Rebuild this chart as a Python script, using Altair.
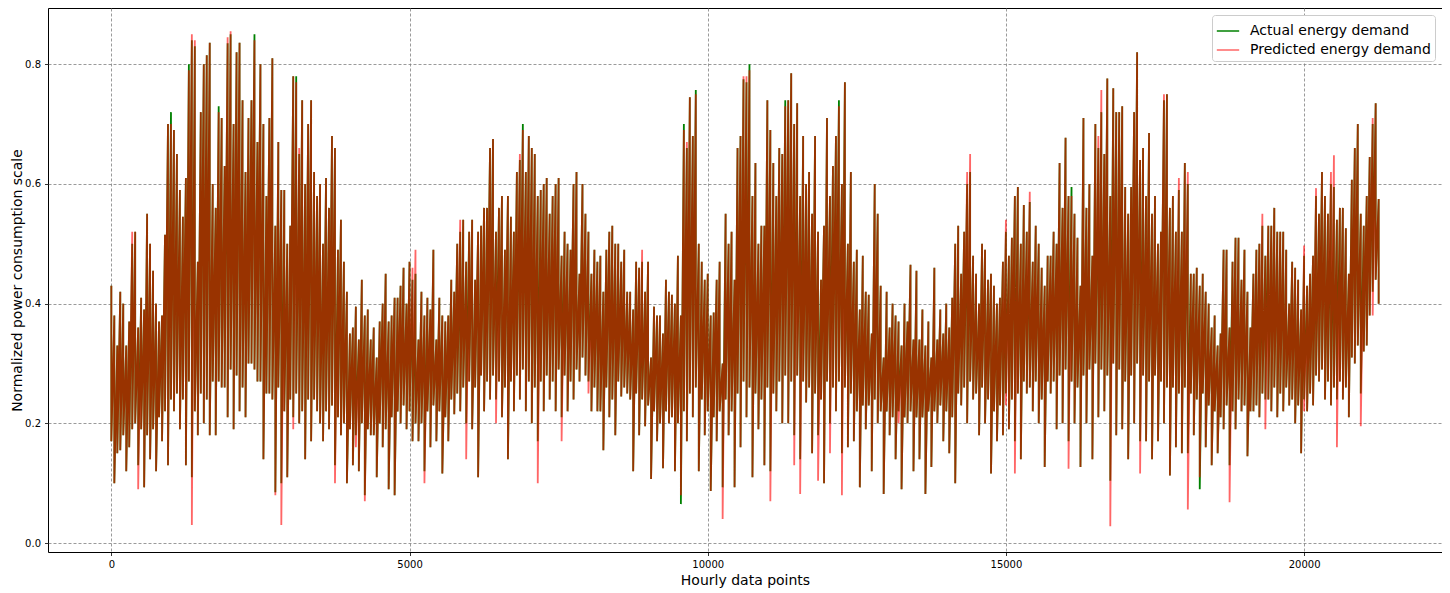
import altair as alt
import pandas as pd

# hourly index of the sampled points (every 50th hour)
hours = list(range(0, 21300, 50))

# outer envelope value at each sampled hour (peaks at even positions, troughs at odd ones)
actual = [
    0.43, 0.10, 0.33, 0.155, 0.40, 0.12, 0.37, 0.19, 0.52, 0.13,
    0.41, 0.093, 0.55, 0.14, 0.455, 0.12, 0.37, 0.17, 0.515, 0.13,
    0.72, 0.22, 0.65, 0.19, 0.545, 0.13, 0.80, 0.11, 0.83, 0.18,
    0.72, 0.20, 0.815, 0.18, 0.60, 0.18, 0.73, 0.26, 0.63, 0.21,
    0.85, 0.19, 0.82, 0.22, 0.74, 0.21, 0.71, 0.30, 0.85, 0.27,
    0.80, 0.14, 0.58, 0.25, 0.81, 0.085, 0.67, 0.10, 0.59, 0.11,
    0.53, 0.21, 0.78, 0.20, 0.74, 0.14, 0.70, 0.17, 0.62, 0.22,
    0.60, 0.17, 0.61, 0.19, 0.68, 0.13, 0.49, 0.18, 0.47, 0.10,
    0.35, 0.13, 0.395, 0.12, 0.44, 0.08, 0.39, 0.18, 0.36, 0.11,
    0.37, 0.16, 0.45, 0.09, 0.38, 0.08, 0.41, 0.20, 0.46, 0.19,
    0.47, 0.17, 0.45, 0.17, 0.42, 0.12, 0.41, 0.16, 0.49, 0.17,
    0.41, 0.116, 0.37, 0.17, 0.44, 0.215, 0.50, 0.22, 0.54, 0.20,
    0.52, 0.19, 0.44, 0.11, 0.53, 0.22, 0.56, 0.24, 0.675, 0.24,
    0.56, 0.21, 0.49, 0.14, 0.545, 0.22, 0.62, 0.24, 0.70, 0.22,
    0.68, 0.20, 0.65, 0.17, 0.59, 0.22, 0.61, 0.24, 0.58, 0.22,
    0.61, 0.21, 0.52, 0.22, 0.49, 0.24, 0.62, 0.27, 0.60, 0.28,
    0.52, 0.22, 0.49, 0.22, 0.48, 0.155, 0.49, 0.21, 0.53, 0.18,
    0.50, 0.245, 0.49, 0.25, 0.42, 0.12, 0.47, 0.18, 0.47, 0.195,
    0.47, 0.107, 0.395, 0.17, 0.38, 0.125, 0.44, 0.20, 0.415, 0.12,
    0.48, 0.065, 0.70, 0.17, 0.745, 0.21, 0.757, 0.12, 0.47, 0.18,
    0.45, 0.087, 0.385, 0.17, 0.47, 0.093, 0.55, 0.18, 0.52, 0.093,
    0.66, 0.16, 0.775, 0.21, 0.80, 0.11, 0.635, 0.19, 0.53, 0.13,
    0.74, 0.12, 0.635, 0.22, 0.66, 0.20, 0.74, 0.20, 0.785, 0.18,
    0.735, 0.14, 0.68, 0.235, 0.62, 0.15, 0.68, 0.18, 0.44, 0.10,
    0.71, 0.20, 0.63, 0.22, 0.74, 0.15, 0.77, 0.16, 0.62, 0.17,
    0.49, 0.093, 0.48, 0.19, 0.415, 0.12, 0.60, 0.20, 0.43, 0.082,
    0.42, 0.18, 0.40, 0.14, 0.37, 0.09, 0.40, 0.20, 0.465, 0.12,
    0.455, 0.14, 0.39, 0.082, 0.37, 0.127, 0.46, 0.20, 0.39, 0.17,
    0.40, 0.15, 0.41, 0.10, 0.53, 0.23, 0.52, 0.20, 0.62, 0.24,
    0.45, 0.18, 0.50, 0.20, 0.44, 0.116, 0.43, 0.17, 0.41, 0.18,
    0.52, 0.19, 0.51, 0.17, 0.595, 0.14, 0.565, 0.25, 0.57, 0.22,
    0.53, 0.20, 0.46, 0.127, 0.48, 0.25, 0.52, 0.19, 0.635, 0.20,
    0.677, 0.17, 0.595, 0.20, 0.51, 0.127, 0.71, 0.20, 0.60, 0.14,
    0.70, 0.21, 0.72, 0.22, 0.776, 0.104, 0.76, 0.18, 0.72, 0.19,
    0.595, 0.14, 0.595, 0.20, 0.82, 0.17, 0.66, 0.17, 0.685, 0.14,
    0.58, 0.17, 0.52, 0.20, 0.75, 0.113, 0.58, 0.16, 0.59, 0.15,
    0.635, 0.15, 0.45, 0.18, 0.46, 0.09, 0.45, 0.16, 0.40, 0.13,
    0.38, 0.15, 0.35, 0.19, 0.49, 0.13, 0.47, 0.19, 0.51, 0.22,
    0.49, 0.145, 0.36, 0.22, 0.49, 0.21, 0.53, 0.24, 0.53, 0.22,
    0.56, 0.21, 0.52, 0.22, 0.49, 0.23, 0.47, 0.20, 0.44, 0.15,
    0.48, 0.22, 0.45, 0.23, 0.58, 0.27, 0.62, 0.24, 0.55, 0.23,
    0.595, 0.24, 0.56, 0.24, 0.526, 0.21, 0.607, 0.30, 0.70, 0.25,
    0.53, 0.33, 0.645, 0.42, 0.735, 0.40,
]

# second value in the same hour bin (trough at even positions, peak at odd ones)
actual_inner = [
    0.17, 0.38, 0.15, 0.42, 0.18, 0.33, 0.16, 0.50, 0.20, 0.36,
    0.19, 0.39, 0.18, 0.50, 0.19, 0.40, 0.21, 0.38, 0.22, 0.70,
    0.24, 0.69, 0.25, 0.59, 0.24, 0.61, 0.27, 0.84, 0.22, 0.47,
    0.25, 0.80, 0.24, 0.836, 0.27, 0.56, 0.27, 0.71, 0.26, 0.835,
    0.29, 0.70, 0.28, 0.836, 0.26, 0.62, 0.30, 0.74, 0.29, 0.67,
    0.27, 0.70, 0.25, 0.71, 0.24, 0.53, 0.26, 0.59, 0.22, 0.50,
    0.24, 0.78, 0.25, 0.65, 0.22, 0.60, 0.24, 0.74, 0.24, 0.58,
    0.20, 0.50, 0.22, 0.56, 0.23, 0.66, 0.21, 0.54, 0.20, 0.42,
    0.19, 0.36, 0.18, 0.34, 0.20, 0.38, 0.19, 0.34, 0.18, 0.31,
    0.20, 0.40, 0.19, 0.37, 0.21, 0.41, 0.22, 0.43, 0.23, 0.40,
    0.22, 0.44, 0.20, 0.34, 0.20, 0.38, 0.22, 0.39, 0.23, 0.34,
    0.22, 0.38, 0.21, 0.38, 0.24, 0.42, 0.25, 0.52, 0.26, 0.47,
    0.27, 0.54, 0.26, 0.52, 0.28, 0.56, 0.27, 0.66, 0.28, 0.52,
    0.27, 0.58, 0.26, 0.58, 0.27, 0.52, 0.28, 0.64, 0.29, 0.62,
    0.27, 0.66, 0.26, 0.58, 0.27, 0.60, 0.28, 0.55, 0.27, 0.60,
    0.29, 0.48, 0.28, 0.50, 0.27, 0.60, 0.29, 0.45, 0.31, 0.55,
    0.27, 0.45, 0.26, 0.47, 0.22, 0.42, 0.26, 0.52, 0.24, 0.50,
    0.27, 0.47, 0.26, 0.42, 0.24, 0.39, 0.25, 0.46, 0.24, 0.42,
    0.23, 0.31, 0.22, 0.38, 0.20, 0.35, 0.22, 0.42, 0.21, 0.40,
    0.20, 0.38, 0.22, 0.66, 0.25, 0.68, 0.26, 0.50, 0.24, 0.44,
    0.22, 0.38, 0.21, 0.44, 0.22, 0.30, 0.24, 0.50, 0.22, 0.44,
    0.25, 0.68, 0.27, 0.77, 0.26, 0.58, 0.25, 0.50, 0.24, 0.53,
    0.26, 0.69, 0.25, 0.58, 0.27, 0.65, 0.28, 0.74, 0.27, 0.70,
    0.28, 0.58, 0.27, 0.60, 0.26, 0.55, 0.25, 0.52, 0.24, 0.53,
    0.27, 0.58, 0.26, 0.68, 0.27, 0.60, 0.26, 0.50, 0.25, 0.47,
    0.22, 0.39, 0.23, 0.42, 0.23, 0.35, 0.24, 0.55, 0.22, 0.31,
    0.22, 0.36, 0.21, 0.38, 0.22, 0.33, 0.21, 0.37, 0.22, 0.34,
    0.21, 0.34, 0.21, 0.33, 0.22, 0.31, 0.22, 0.34, 0.23, 0.35,
    0.22, 0.36, 0.21, 0.50, 0.25, 0.45, 0.26, 0.60, 0.27, 0.48,
    0.25, 0.40, 0.26, 0.49, 0.24, 0.45, 0.22, 0.40, 0.23, 0.47,
    0.25, 0.48, 0.24, 0.58, 0.25, 0.50, 0.27, 0.52, 0.26, 0.47,
    0.27, 0.50, 0.24, 0.43, 0.27, 0.48, 0.27, 0.50, 0.28, 0.56,
    0.29, 0.58, 0.27, 0.55, 0.26, 0.43, 0.28, 0.56, 0.29, 0.48,
    0.30, 0.66, 0.29, 0.65, 0.28, 0.58, 0.30, 0.72, 0.29, 0.73,
    0.27, 0.55, 0.28, 0.72, 0.30, 0.64, 0.28, 0.58, 0.27, 0.55,
    0.28, 0.50, 0.27, 0.74, 0.26, 0.56, 0.26, 0.52, 0.25, 0.52,
    0.26, 0.60, 0.25, 0.45, 0.24, 0.43, 0.25, 0.42, 0.23, 0.36,
    0.22, 0.33, 0.21, 0.49, 0.23, 0.36, 0.22, 0.51, 0.24, 0.44,
    0.23, 0.42, 0.22, 0.45, 0.23, 0.50, 0.25, 0.48, 0.24, 0.53,
    0.26, 0.52, 0.25, 0.52, 0.26, 0.40, 0.24, 0.46, 0.23, 0.39,
    0.24, 0.43, 0.25, 0.48, 0.28, 0.55, 0.29, 0.58, 0.27, 0.60,
    0.26, 0.54, 0.27, 0.56, 0.26, 0.45, 0.31, 0.66, 0.33, 0.55,
    0.32, 0.58, 0.38, 0.70, 0.44, 0.575,
]

predicted = [
    0.43, 0.10, 0.33, 0.155, 0.40, 0.12, 0.37, 0.19, 0.52, 0.09,
    0.41, 0.093, 0.55, 0.14, 0.455, 0.12, 0.37, 0.17, 0.515, 0.13,
    0.70, 0.22, 0.65, 0.19, 0.545, 0.13, 0.79, 0.03, 0.84, 0.18,
    0.72, 0.20, 0.815, 0.18, 0.60, 0.18, 0.72, 0.26, 0.63, 0.21,
    0.855, 0.19, 0.82, 0.22, 0.74, 0.21, 0.71, 0.30, 0.84, 0.27,
    0.80, 0.14, 0.58, 0.25, 0.81, 0.08, 0.67, 0.03, 0.59, 0.11,
    0.53, 0.19, 0.77, 0.20, 0.74, 0.14, 0.70, 0.17, 0.62, 0.22,
    0.60, 0.17, 0.61, 0.19, 0.68, 0.10, 0.49, 0.18, 0.47, 0.10,
    0.35, 0.13, 0.395, 0.12, 0.44, 0.07, 0.39, 0.18, 0.36, 0.11,
    0.37, 0.16, 0.45, 0.09, 0.38, 0.08, 0.41, 0.20, 0.46, 0.19,
    0.47, 0.17, 0.49, 0.17, 0.42, 0.10, 0.41, 0.16, 0.49, 0.17,
    0.41, 0.116, 0.37, 0.17, 0.44, 0.215, 0.50, 0.22, 0.54, 0.14,
    0.52, 0.19, 0.44, 0.11, 0.53, 0.22, 0.56, 0.24, 0.675, 0.20,
    0.56, 0.21, 0.49, 0.14, 0.545, 0.22, 0.62, 0.24, 0.69, 0.22,
    0.68, 0.20, 0.65, 0.10, 0.59, 0.22, 0.61, 0.24, 0.58, 0.22,
    0.61, 0.17, 0.52, 0.22, 0.49, 0.24, 0.62, 0.27, 0.60, 0.28,
    0.52, 0.22, 0.49, 0.22, 0.48, 0.155, 0.49, 0.21, 0.53, 0.18,
    0.50, 0.245, 0.49, 0.25, 0.42, 0.12, 0.47, 0.18, 0.49, 0.195,
    0.47, 0.107, 0.395, 0.17, 0.38, 0.125, 0.44, 0.20, 0.415, 0.12,
    0.48, 0.08, 0.69, 0.17, 0.745, 0.21, 0.75, 0.12, 0.47, 0.18,
    0.45, 0.087, 0.385, 0.17, 0.47, 0.04, 0.55, 0.18, 0.52, 0.093,
    0.66, 0.16, 0.78, 0.21, 0.79, 0.11, 0.635, 0.19, 0.53, 0.13,
    0.74, 0.07, 0.635, 0.22, 0.66, 0.20, 0.73, 0.20, 0.785, 0.13,
    0.735, 0.082, 0.68, 0.235, 0.62, 0.15, 0.68, 0.104, 0.44, 0.10,
    0.71, 0.15, 0.63, 0.22, 0.73, 0.08, 0.77, 0.16, 0.62, 0.17,
    0.49, 0.093, 0.48, 0.19, 0.415, 0.12, 0.60, 0.20, 0.43, 0.082,
    0.42, 0.18, 0.40, 0.14, 0.37, 0.09, 0.40, 0.20, 0.465, 0.12,
    0.455, 0.14, 0.39, 0.082, 0.37, 0.127, 0.46, 0.20, 0.39, 0.17,
    0.40, 0.15, 0.41, 0.10, 0.53, 0.23, 0.52, 0.20, 0.65, 0.24,
    0.45, 0.18, 0.50, 0.20, 0.44, 0.116, 0.43, 0.17, 0.41, 0.18,
    0.54, 0.19, 0.51, 0.116, 0.595, 0.14, 0.565, 0.25, 0.587, 0.22,
    0.53, 0.20, 0.46, 0.127, 0.48, 0.25, 0.52, 0.19, 0.635, 0.20,
    0.677, 0.124, 0.58, 0.20, 0.51, 0.127, 0.71, 0.20, 0.60, 0.14,
    0.70, 0.21, 0.757, 0.22, 0.776, 0.028, 0.76, 0.18, 0.72, 0.19,
    0.595, 0.14, 0.595, 0.20, 0.82, 0.116, 0.66, 0.17, 0.685, 0.14,
    0.58, 0.17, 0.52, 0.20, 0.75, 0.113, 0.58, 0.16, 0.61, 0.15,
    0.635, 0.056, 0.45, 0.18, 0.46, 0.11, 0.45, 0.16, 0.40, 0.13,
    0.38, 0.15, 0.35, 0.19, 0.49, 0.068, 0.47, 0.19, 0.51, 0.22,
    0.49, 0.145, 0.36, 0.22, 0.49, 0.21, 0.55, 0.19, 0.53, 0.22,
    0.56, 0.21, 0.52, 0.22, 0.49, 0.23, 0.47, 0.20, 0.44, 0.15,
    0.497, 0.22, 0.45, 0.23, 0.593, 0.27, 0.62, 0.24, 0.55, 0.23,
    0.648, 0.16, 0.56, 0.24, 0.526, 0.21, 0.607, 0.30, 0.70, 0.195,
    0.53, 0.33, 0.645, 0.38, 0.735, 0.40,
]

predicted_inner = [
    0.17, 0.38, 0.15, 0.42, 0.18, 0.33, 0.16, 0.52, 0.20, 0.36,
    0.19, 0.39, 0.18, 0.50, 0.19, 0.40, 0.21, 0.38, 0.22, 0.70,
    0.24, 0.69, 0.25, 0.59, 0.24, 0.61, 0.27, 0.85, 0.22, 0.47,
    0.25, 0.80, 0.24, 0.836, 0.27, 0.56, 0.27, 0.71, 0.26, 0.845,
    0.29, 0.70, 0.28, 0.836, 0.26, 0.62, 0.30, 0.74, 0.29, 0.67,
    0.27, 0.70, 0.25, 0.71, 0.24, 0.53, 0.26, 0.59, 0.22, 0.50,
    0.24, 0.78, 0.25, 0.66, 0.22, 0.60, 0.24, 0.74, 0.24, 0.58,
    0.20, 0.50, 0.22, 0.56, 0.23, 0.66, 0.21, 0.54, 0.20, 0.42,
    0.19, 0.36, 0.16, 0.34, 0.20, 0.38, 0.19, 0.34, 0.18, 0.31,
    0.20, 0.40, 0.19, 0.37, 0.21, 0.41, 0.22, 0.43, 0.23, 0.40,
    0.22, 0.46, 0.20, 0.34, 0.20, 0.38, 0.22, 0.39, 0.23, 0.34,
    0.22, 0.38, 0.21, 0.38, 0.24, 0.42, 0.25, 0.54, 0.26, 0.47,
    0.27, 0.54, 0.26, 0.52, 0.28, 0.56, 0.27, 0.66, 0.28, 0.52,
    0.27, 0.58, 0.26, 0.58, 0.27, 0.52, 0.28, 0.65, 0.29, 0.62,
    0.27, 0.66, 0.26, 0.58, 0.27, 0.60, 0.28, 0.55, 0.27, 0.60,
    0.29, 0.48, 0.28, 0.50, 0.27, 0.60, 0.29, 0.45, 0.31, 0.55,
    0.25, 0.45, 0.26, 0.47, 0.22, 0.42, 0.26, 0.52, 0.24, 0.50,
    0.27, 0.47, 0.26, 0.42, 0.24, 0.39, 0.25, 0.46, 0.24, 0.42,
    0.23, 0.31, 0.22, 0.38, 0.20, 0.35, 0.22, 0.42, 0.21, 0.40,
    0.20, 0.38, 0.22, 0.67, 0.25, 0.68, 0.26, 0.50, 0.24, 0.44,
    0.22, 0.38, 0.21, 0.44, 0.22, 0.30, 0.24, 0.50, 0.22, 0.44,
    0.25, 0.68, 0.27, 0.78, 0.26, 0.58, 0.25, 0.50, 0.24, 0.53,
    0.26, 0.69, 0.25, 0.58, 0.27, 0.65, 0.28, 0.74, 0.27, 0.70,
    0.28, 0.58, 0.27, 0.60, 0.26, 0.55, 0.25, 0.52, 0.24, 0.53,
    0.27, 0.58, 0.26, 0.68, 0.27, 0.60, 0.26, 0.50, 0.25, 0.47,
    0.22, 0.39, 0.23, 0.42, 0.23, 0.35, 0.24, 0.55, 0.22, 0.31,
    0.22, 0.36, 0.21, 0.38, 0.20, 0.33, 0.21, 0.37, 0.22, 0.34,
    0.21, 0.34, 0.21, 0.33, 0.22, 0.31, 0.22, 0.34, 0.23, 0.35,
    0.22, 0.36, 0.21, 0.50, 0.25, 0.45, 0.26, 0.62, 0.27, 0.48,
    0.25, 0.40, 0.26, 0.49, 0.24, 0.45, 0.22, 0.40, 0.23, 0.47,
    0.23, 0.48, 0.24, 0.58, 0.25, 0.50, 0.27, 0.52, 0.26, 0.47,
    0.27, 0.50, 0.24, 0.43, 0.27, 0.48, 0.27, 0.50, 0.28, 0.56,
    0.29, 0.58, 0.27, 0.55, 0.26, 0.43, 0.28, 0.56, 0.29, 0.48,
    0.30, 0.68, 0.29, 0.65, 0.28, 0.58, 0.30, 0.72, 0.29, 0.73,
    0.27, 0.55, 0.28, 0.72, 0.30, 0.64, 0.28, 0.58, 0.27, 0.55,
    0.28, 0.50, 0.27, 0.75, 0.26, 0.56, 0.26, 0.52, 0.25, 0.52,
    0.26, 0.62, 0.25, 0.45, 0.24, 0.43, 0.25, 0.42, 0.23, 0.36,
    0.22, 0.33, 0.21, 0.49, 0.23, 0.36, 0.22, 0.51, 0.24, 0.44,
    0.23, 0.42, 0.22, 0.45, 0.23, 0.50, 0.25, 0.48, 0.24, 0.53,
    0.26, 0.52, 0.25, 0.52, 0.26, 0.40, 0.24, 0.46, 0.23, 0.39,
    0.22, 0.43, 0.25, 0.48, 0.28, 0.55, 0.29, 0.58, 0.27, 0.62,
    0.26, 0.54, 0.27, 0.56, 0.26, 0.45, 0.31, 0.66, 0.33, 0.55,
    0.32, 0.58, 0.38, 0.71, 0.44, 0.575,
]

series_names = ["Actual energy demand", "Predicted energy demand"]
series_colors = ["#008000", "#ff0000"]
series_opacity = [1.0, 0.6]
x_ticks = [0, 5000, 10000, 15000, 20000]
y_ticks = [0.0, 0.2, 0.4, 0.6, 0.8]


def trace(name, outer, inner):
    rows = []
    n = min(len(hours), len(outer), len(inner))
    for i in range(n):
        # within each hour bin the path goes from the bin's peak down to its trough
        first, second = (outer[i], inner[i]) if i % 2 == 0 else (inner[i], outer[i])
        rows.append({"hour": hours[i], "value": first, "series": name, "order": 2 * i})
        rows.append({"hour": hours[i], "value": second, "series": name, "order": 2 * i + 1})
    return rows


df = pd.DataFrame(trace(series_names[0], actual, actual_inner)
                  + trace(series_names[1], predicted, predicted_inner))

legend = alt.Legend(
    title=None, orient="top-right", offset=7,
    labelFont="DejaVu Sans", labelFontSize=14, labelColor="black", labelLimit=400,
    symbolType="stroke", symbolSize=500, symbolStrokeWidth=1.5,
    labelOffset=10, padding=4, rowPadding=0,
    strokeColor="#cccccc", fillColor="white", cornerRadius=3,
)

x_scale = alt.Scale(domain=[-1062, 22312], nice=False, zero=False)
y_scale = alt.Scale(domain=[-0.015, 0.894], nice=False, zero=False)

x_enc = alt.X(
    "hour:Q", scale=x_scale,
    axis=alt.Axis(values=x_ticks, format="d", title="Hourly data points",
                  titleY=28, titleBaseline="middle"),
)
y_enc = alt.Y(
    "value:Q", scale=y_scale,
    axis=alt.Axis(values=y_ticks, format=".1f",
                  title="Normalized power consumption scale",
                  titleX=-31, titleY=272, titleAngle=270,
                  titleAlign="center", titleBaseline="middle"),
)
color_enc = alt.Color("series:N", scale=alt.Scale(domain=series_names, range=series_colors), legend=legend)
opacity_enc = alt.Opacity("series:N", scale=alt.Scale(domain=series_names, range=series_opacity), legend=legend)

base = alt.Chart(df).mark_line(strokeWidth=1.8, clip=True).encode(
    x=x_enc, y=y_enc, color=color_enc, opacity=opacity_enc, order="order:Q"
)

layer_actual = base.transform_filter(alt.datum.series == series_names[0])
layer_pred = base.transform_filter(alt.datum.series == series_names[1])

chart = alt.layer(layer_actual, layer_pred).properties(
    width=1394, height=544,
    autosize=alt.AutoSizeParams(type="none"),
    padding={"left": 40, "top": 0, "right": 0, "bottom": 40},
).configure_view(
    stroke="black", strokeWidth=1
).configure_axis(
    domain=False, grid=True, gridColor="#808080", gridDash=[3, 2], gridWidth=0.8,
    tickColor="black", tickSize=3.5, tickWidth=0.8, labelPadding=4,
    labelFont="DejaVu Sans", labelFontSize=10, labelColor="black",
    titleFont="DejaVu Sans", titleFontSize=14, titleFontWeight="normal", titleColor="black",
)

chart.save("out.html", embed_options={"renderer": "svg", "actions": False})
